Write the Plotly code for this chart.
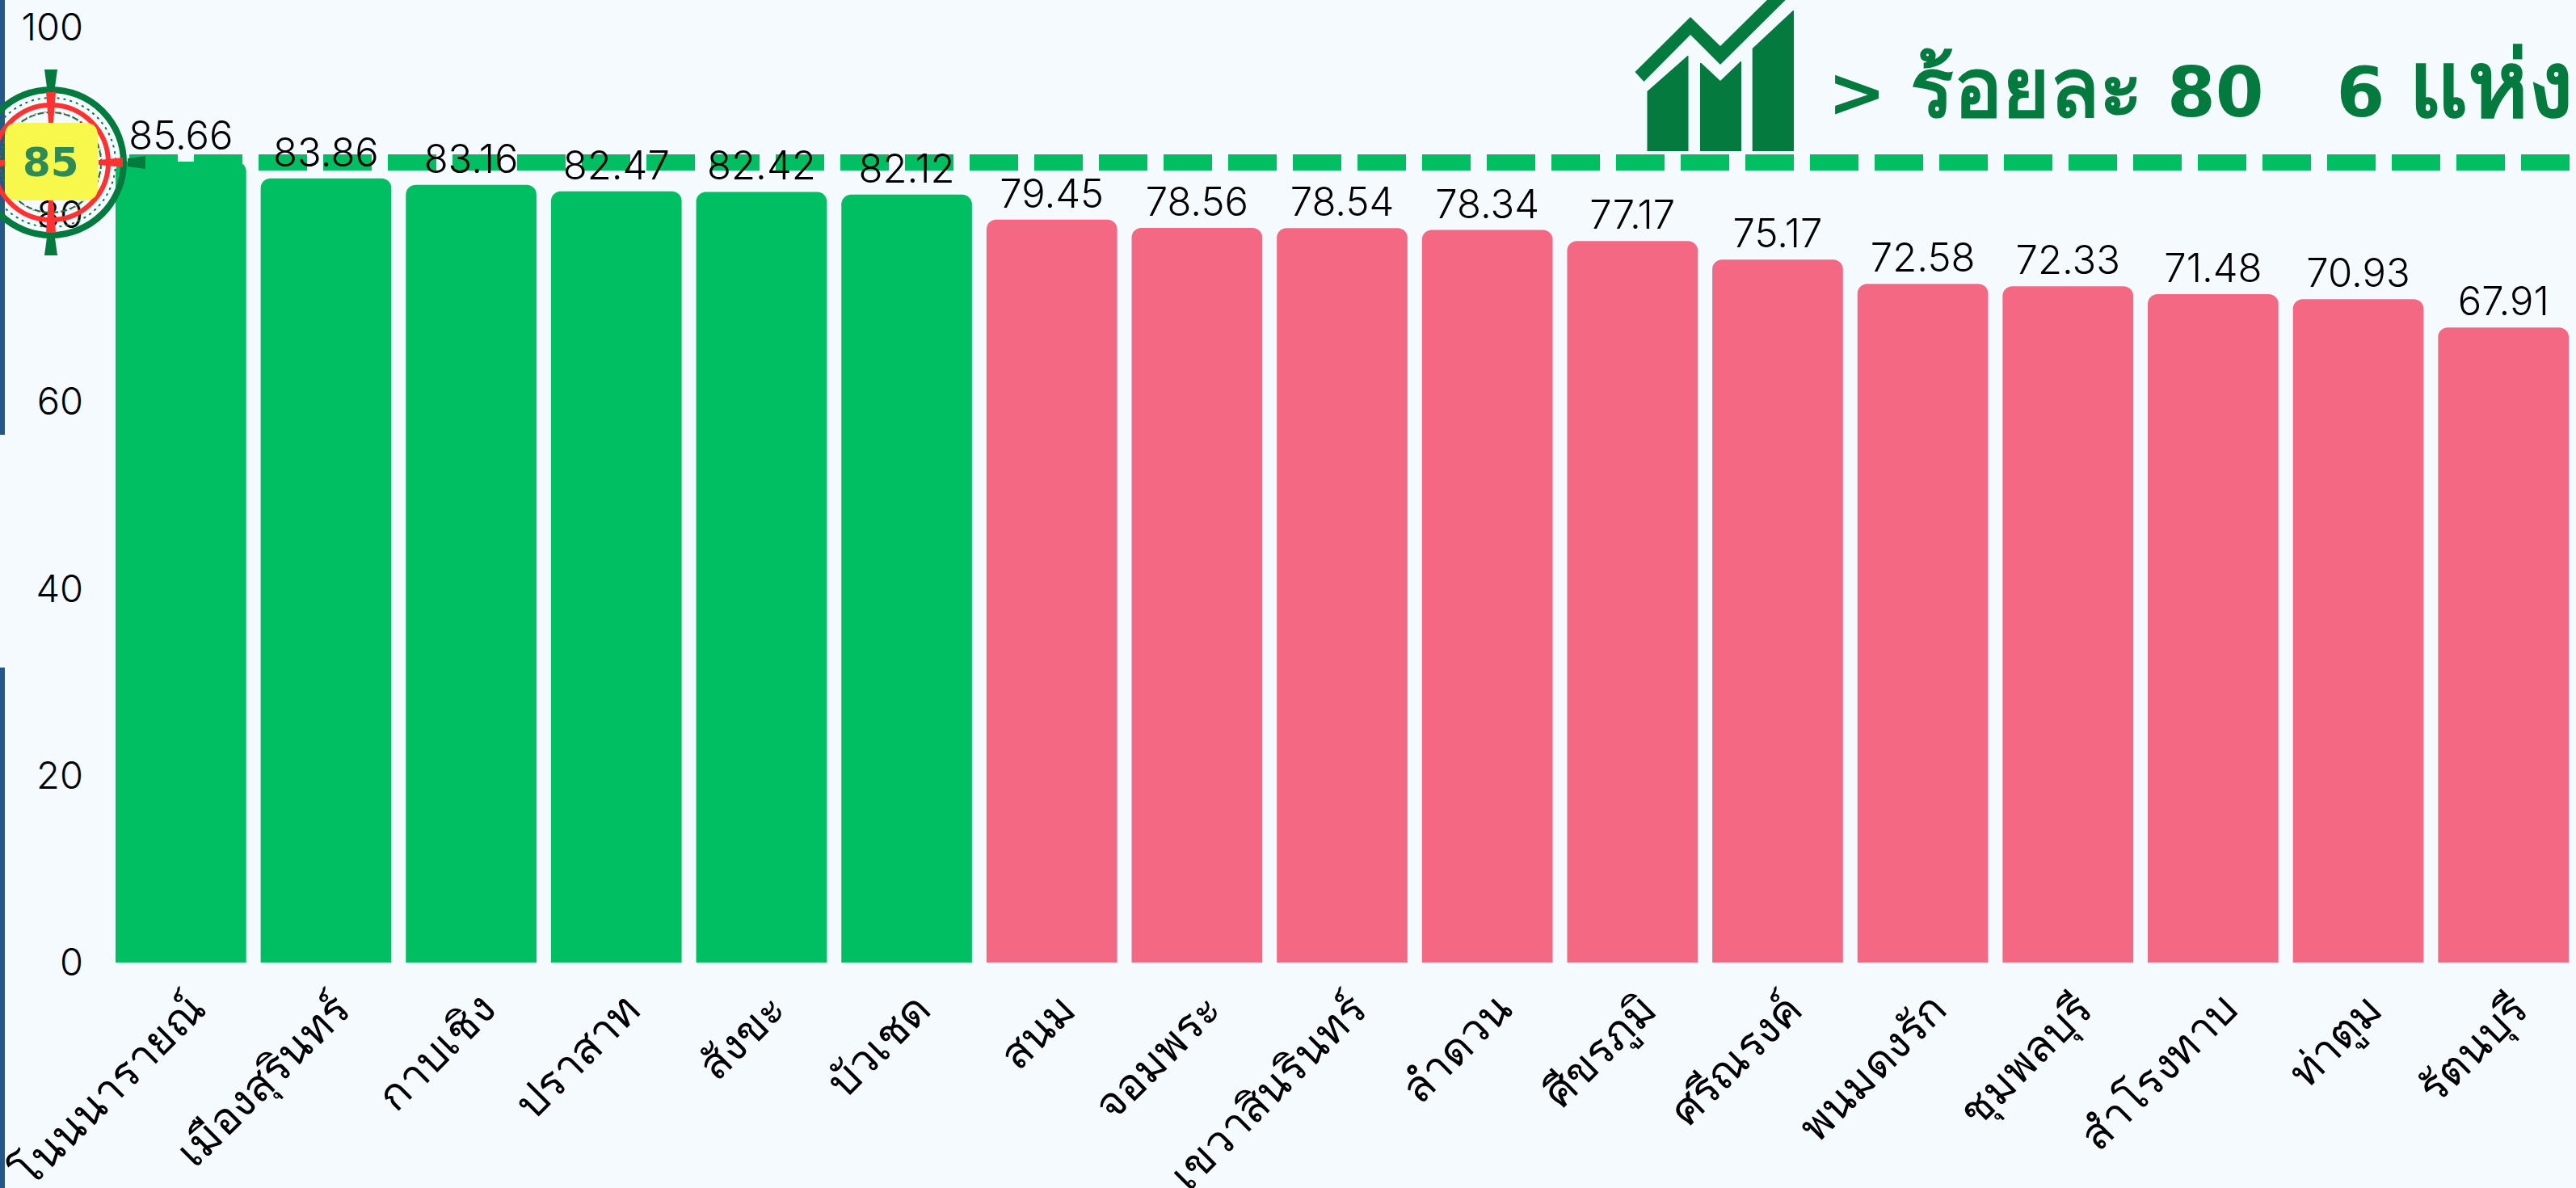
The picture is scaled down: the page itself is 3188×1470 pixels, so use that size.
import plotly.graph_objects as go

categories = ["โนนนารายณ์", "เมืองสุรินทร์", "กาบเชิง", "ปราสาท", "สังขะ", "บัวเชด", "สนม", "จอมพระ",
              "เขวาสินรินทร์", "ลำดวน", "ศีขรภูมิ", "ศรีณรงค์", "พนมดงรัก", "ชุมพลบุรี", "สำโรงทาบ", "ท่าตูม", "รัตนบุรี"]
values = [85.66, 83.86, 83.16, 82.47, 82.42, 82.12, 79.45, 78.56, 78.54, 78.34, 77.17, 75.17, 72.58, 72.33, 71.48, 70.93, 67.91]
threshold_line = 85.57
target_label = "85"
y_ticks = [0, 20, 40, 60, 80, 100]

GREEN, PINK, DARK, RED, YELLOW, BG, BLUE = "#00BF63", "#F46884", "#047A3E", "#FF3131", "#F8F84C", "#F5FAFF", "#24578A"
colors = [GREEN if v >= 80 else PINK for v in values]
FONT = "Inter, 'Noto Sans', sans-serif"
BOLD = "'DejaVu Sans', 'Noto Sans', sans-serif"
TH = 'style="font-size:100px"'
TH2 = 'style="font-size:114px"'
headline = f"> <span {TH}>ร้อยละ</span> 80\u00a0\u00a0\u00a06 <span {TH2}>แห่ง</span>"

W, H = 3188, 1470
L, R, T, B = 134, 0, 34, 279
PW, PH = W - L - R, H - T - B
fx = lambda x: (x - L) / PW
fy = lambda y: (H - B - y) / PH

fig = go.Figure(go.Bar(
    x=categories, y=values, marker=dict(color=colors, line_width=0, cornerradius=12),
    text=[f"{v:.2f}" for v in values], textposition="outside", cliponaxis=False,
    textfont=dict(family=FONT, size=49, color="#000000", weight=300), width=0.9,
    hoverinfo="skip"))

shapes = []
def rect(x0, y0, x1, y1, color):
    shapes.append(dict(type="rect", xref="paper", yref="paper", x0=fx(x0), x1=fx(x1), y0=fy(y0), y1=fy(y1),
                       fillcolor=color, line_width=0, layer="above"))
def poly(pts, color):
    p = "M" + "L".join(f"{fx(x):.5f},{fy(y):.5f}" for x, y in pts) + "Z"
    shapes.append(dict(type="path", xref="paper", yref="paper", path=p, fillcolor=color, line_width=0, layer="above"))
def ring(cx, cy, r, color, width, dash="solid"):
    shapes.append(dict(type="circle", xref="paper", yref="paper", x0=fx(cx - r), x1=fx(cx + r), y0=fy(cy + r), y1=fy(cy - r),
                       line=dict(color=color, width=width, dash=dash), layer="above"))

# threshold line
shapes.append(dict(type="line", xref="paper", yref="y", x0=fx(160), x1=1, y0=threshold_line, y1=threshold_line,
                   line=dict(color=GREEN, width=20, dash="60px,20px"), layer="below"))
# left edge strips
rect(0, 0, 6, 538, BLUE)
rect(0, 826, 6, 1470, BLUE)

# gauge
cx, cy = 63, 201
ring(cx, cy, 90, DARK, 8)
ring(cx, cy, 80, DARK, 2, "3px,5px")
ring(cx, cy, 71, RED, 6)
ring(cx, cy, 62, DARK, 2, "8px,3px")
ring(cx, cy, 63, RED, 1, "2px,4px")
poly([(cx - 8, 86), (cx + 8, 86), (cx + 5, 108), (cx - 5, 108)], DARK)
poly([(cx - 8, 316), (cx + 8, 316), (cx + 5, 294), (cx - 5, 294)], DARK)
poly([(180, cy - 8), (180, cy + 8), (158, cy + 5), (158, cy - 5)], DARK)
poly([(cx - 6, 114), (cx + 6, 114), (cx + 3, 152), (cx - 3, 152)], RED)
poly([(cx - 6, 288), (cx + 6, 288), (cx + 3, 248), (cx - 3, 248)], RED)
poly([(152, cy - 6), (152, cy + 6), (122, cy + 3), (122, cy - 3)], RED)
poly([(0, cy - 3), (0, cy + 5), (6, cy + 4), (6, cy - 3)], RED)
r = 16
shapes.append(dict(type="path", xref="paper", yref="paper", fillcolor=YELLOW, line_width=0, layer="above",
    path=f"M{fx(6+r)},{fy(152)}L{fx(121-r)},{fy(152)}Q{fx(121)},{fy(152)} {fx(121)},{fy(152+r)}L{fx(121)},{fy(248-r)}"
         f"Q{fx(121)},{fy(248)} {fx(121-r)},{fy(248)}L{fx(6+r)},{fy(248)}Q{fx(6)},{fy(248)} {fx(6)},{fy(248-r)}"
         f"L{fx(6)},{fy(152+r)}Q{fx(6)},{fy(152)} {fx(6+r)},{fy(152)}Z"))

# icon
poly([(2038.5, 113), (2088.5, 69), (2089.5, 69), (2089.5, 187), (2038.5, 187)], DARK)
poly([(2104, 78), (2105.5, 78), (2129, 100), (2154, 76), (2155, 76), (2155, 187), (2104, 187)], DARK)
poly([(2168.7, 60), (2219, 13), (2220, 13), (2220, 187), (2168.7, 187)], DARK)
poly([(2023.4, 89), (2092, 21), (2129, 57), (2186.9, 0), (2209.7, 0), (2129, 80), (2092, 43), (2034.5, 101)], DARK)

annotations = [
    dict(text=f"<b>{headline}</b>", xref="paper", yref="paper", x=fx(2260), y=fy(105), xanchor="left", yanchor="middle",
         showarrow=False, font=dict(family=BOLD, size=86, color=DARK), align="left"),
    dict(text=f"<b>{target_label}</b>", xref="paper", yref="paper", x=fx(63), y=fy(201), xanchor="center", yanchor="middle",
         showarrow=False, font=dict(family=BOLD, size=50, color="#2E8B57")),
]

fig.update_layout(
    width=W, height=H, autosize=False, margin=dict(l=L, r=R, t=T, b=B, pad=0),
    paper_bgcolor=BG, plot_bgcolor=BG, showlegend=False, shapes=shapes, annotations=annotations,
    xaxis=dict(tickangle=-45, showgrid=False, zeroline=False, showline=False, ticks="",
               tickfont=dict(family=FONT, size=54, color="#000000"), range=[-0.5, 16.5], automargin=False,
               ticklabelstandoff=14, ticklabelshift=14),
    yaxis=dict(range=[0, 100], tickvals=y_ticks, showgrid=False, zeroline=False, showline=False, ticks="",
               tickfont=dict(family=FONT, size=47, color="#000000", weight=300), ticklabelstandoff=30, automargin=False),
)
fig.write_html("out.html", config=dict(displayModeBar=False),
               post_script="document.body.style.margin='0';document.body.style.overflow='hidden';document.body.style.background='#F5FAFF';")
